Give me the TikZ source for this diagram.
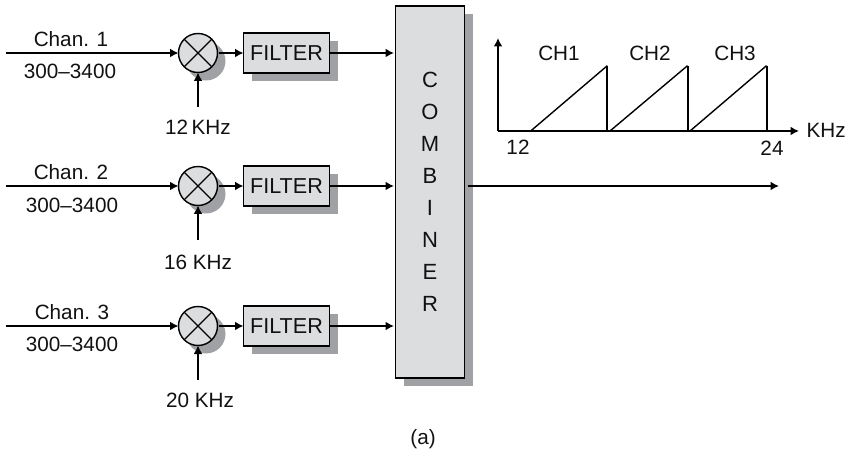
\documentclass[tikz,border=0pt]{standalone}
\usepackage{fontspec}
\setmainfont{Liberation Sans}
\usetikzlibrary{arrows.meta,shadows}
\definecolor{boxfill}{HTML}{DCDDDF}
\definecolor{shadowc}{HTML}{A0A1A4}
\definecolor{ink}{HTML}{111111}
\tikzset{
  x=1pt,y=-1pt,
  every node/.style={font=\fontsize{20.7}{24}\selectfont,text=ink,inner sep=0pt,outer sep=0pt},
  shade3/.style={copy shadow={shadow xshift=8pt,shadow yshift=-8pt,fill=shadowc,draw=none}},
  mixer/.style={circle,draw=black,line width=1.4pt,fill=boxfill,minimum size=39pt,shade3},
  filterbox/.style={rectangle,draw=black,line width=1.4pt,fill=boxfill,minimum width=86pt,minimum height=40pt,shade3,font=\fontsize{21.6}{24}\selectfont},
  combinerbox/.style={rectangle,draw=black,line width=1.4pt,fill=boxfill,minimum width=69pt,minimum height=372pt,shade3,align=center,font=\fontsize{22}{32}\selectfont},
  conn/.style={line width=2pt,draw=black,-{Latex[length=8.5pt,width=9pt]}},
  axisline/.style={line width=2pt,draw=black,-{Latex[length=8.5pt,width=9pt]}},
  ramp/.style={line width=1.4pt,draw=black},
  edge/.style={line width=2pt,draw=black},
}
\begin{document}
\begin{tikzpicture}
\useasboundingbox (0,0) rectangle (848,454);
% combiner
\node[combinerbox] (comb) at (430,192) {C\\O\\M\\B\\I\\N\\E\\R};
% row 1
\node[mixer] (m1) at (198,53) {};
\node[filterbox] (f1) at (286.5,53) {FILTER};
\coordinate (in1) at (6,53);
\coordinate (lo1) at (198,107);
\node (cl1) at (71,39) {Chan. 1};
\node (bw1) at (70,71) {300–3400};
\node (k1) at (198,127) {12\,KHz};
% row 2
\node[mixer] (m2) at (198,186) {};
\node[filterbox] (f2) at (286.5,186) {FILTER};
\coordinate (in2) at (6,186);
\coordinate (lo2) at (198,240);
\node (cl2) at (71,172) {Chan. 2};
\node (bw2) at (72,205) {300–3400};
\node (k2) at (198,262) {16 KHz};
% row 3
\node[mixer] (m3) at (198,326) {};
\node[filterbox] (f3) at (286.5,326) {FILTER};
\coordinate (in3) at (6,326);
\coordinate (lo3) at (198,380);
\node (cl3) at (72,312) {Chan. 3};
\node (bw3) at (72,344) {300–3400};
\node (k3) at (200,400) {20 KHz};
% mixer crosses and connectors
\foreach \i in {1,2,3}{
  \draw[line width=1.1pt] (m\i.north west) -- (m\i.south east);
  \draw[line width=1.1pt] (m\i.north east) -- (m\i.south west);
  \draw[conn] (in\i) -- (m\i.west);
  \draw[conn] (lo\i) -- (m\i.south);
  \draw[conn,shorten <=1.5pt] (m\i.east) -- (f\i.west);
  \draw[conn,shorten >=1.5pt] (f\i.east) -- (f\i.east -| comb.west);
}
% output
\coordinate (out) at (779,186);
\draw[conn,shorten <=3pt] (comb.east |- out) -- (out);
% spectrum
\coordinate (o) at (498,131);
\coordinate (ytop) at (498,38);
\coordinate (xend) at (799,131);
\draw[axisline] (o) -- (ytop);
\draw[axisline] (o) -- (xend);
\draw[ramp] (530.7,131) -- (607.3,65.7);
\draw[edge] (607.3,65.7) -- (607.3,131);
\draw[ramp] (610,131) -- (687.5,65.7);
\draw[edge] (687.5,65.7) -- (687.5,131);
\draw[ramp] (690,131) -- (766.5,65.7);
\draw[edge] (766.5,65.7) -- (766.5,131);
\node (ch1) at (559,53) {CH1};
\node (ch2) at (650,53) {CH2};
\node (ch3) at (735,53) {CH3};
\node[anchor=west] (khz) at (806.5,130.5) {KHz};
\node (n12) at (518,147) {12};
\node (n24) at (772,148) {24};
\node (cap) at (423,439) {(a)};
\end{tikzpicture}
\end{document}
